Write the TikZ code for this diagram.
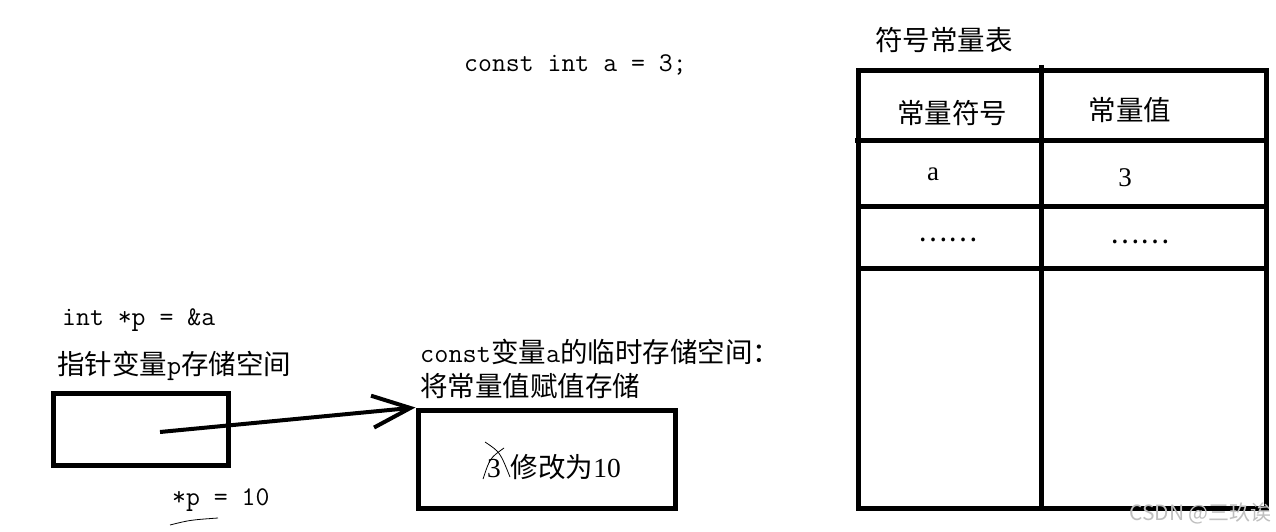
\documentclass[tikz,border=0pt]{standalone}
\usepackage{fontspec}
\newfontfamily\cjk{Noto Sans CJK SC}
\newfontfamily\numfont{Liberation Serif}
\usetikzlibrary{arrows.meta,positioning}

\begin{document}
\begin{tikzpicture}[x=1pt,y=-1pt,
  membox/.style={draw,line width=5pt,inner sep=0pt},
  lbl/.style={anchor=west,inner sep=0pt,font=\cjk\fontsize{27.5}{32}\selectfont},
  code/.style={anchor=west,inner sep=0pt,font=\ttfamily\fontsize{27}{32}\selectfont},
  cell/.style={inner sep=0pt,font=\cjk\fontsize{27.5}{32}\selectfont},
  tline/.style={line width=5pt},
  scribble/.style={line width=0.8pt}]
  \useasboundingbox (0,0) rectangle (1276,532);

  % code line on top
  \node[code] (decl) at (464,65) {const int a = 3;};

  % pointer variable
  \node[code] (ptrdecl) at (62,320) {int *p = \&a};
  \node[lbl] (ptrlbl) at (57,366) {指针变量{\ttfamily p}存储空间};
  \node[membox,minimum width=175pt,minimum height=72pt] (ptr) at (140.5,429) {};
  \node[code] (deref) at (172,500) {*p = 10};
  \draw[scribble] (170,525) .. controls (190,520) .. (218,518);

  % temporary storage of a
  \node[lbl] (tmplbl) at (420,352) {{\ttfamily const}变量{\ttfamily a}的临时存储空间：};
  \node[lbl] (tmplbl2) at (420,386) {将常量值赋值存储};
  \node[membox,minimum width=257pt,minimum height=98pt] (tmp) at (546.5,459) {};
  \node[lbl] (newval) at (487,467) {{\numfont 3}\hspace{10pt}修改为{\numfont 10}};
  \draw[scribble] (485,442) .. controls (500,452) .. (510,477);
  \draw[scribble] (504,448) .. controls (490,458) .. (483,479);

  \coordinate (ptrout) at (160,432);
  \draw[line width=4pt,-{Straight Barb[length=38pt,width=32pt,line width=4pt]}] (ptrout) -- (tmp.north west);

  % symbol constant table
  \node[lbl] (tbltitle) at (875,40) {符号常量表};
  \draw[tline] (858,71) rectangle (1266,508);
  \draw[tline] (1041,65) -- (1041,508);
  \draw[tline] (855,140) -- (1266,140);
  \draw[tline] (858,206) -- (1266,206);
  \draw[tline] (858,268) -- (1269,268);
  \node[cell] (hsym) at (952,113) {常量符号};
  \node[cell] (hval) at (1130,110) {常量值};
  \node[cell,font=\numfont\fontsize{27}{32}\selectfont] (sym) at (933,174) {a};
  \node[cell,font=\numfont\fontsize{27}{32}\selectfont] (val) at (1125,178) {3};
  \node[cell] (symdots) at (948,240) {……};
  \node[cell] (valdots) at (1140,242) {……};

  % watermark
  \node[anchor=east,inner sep=0pt,text=gray!50,font=\cjk\fontsize{21}{24}\selectfont] (wm) at (1272,513) {CSDN @三玖诶};
\end{tikzpicture}
\end{document}
